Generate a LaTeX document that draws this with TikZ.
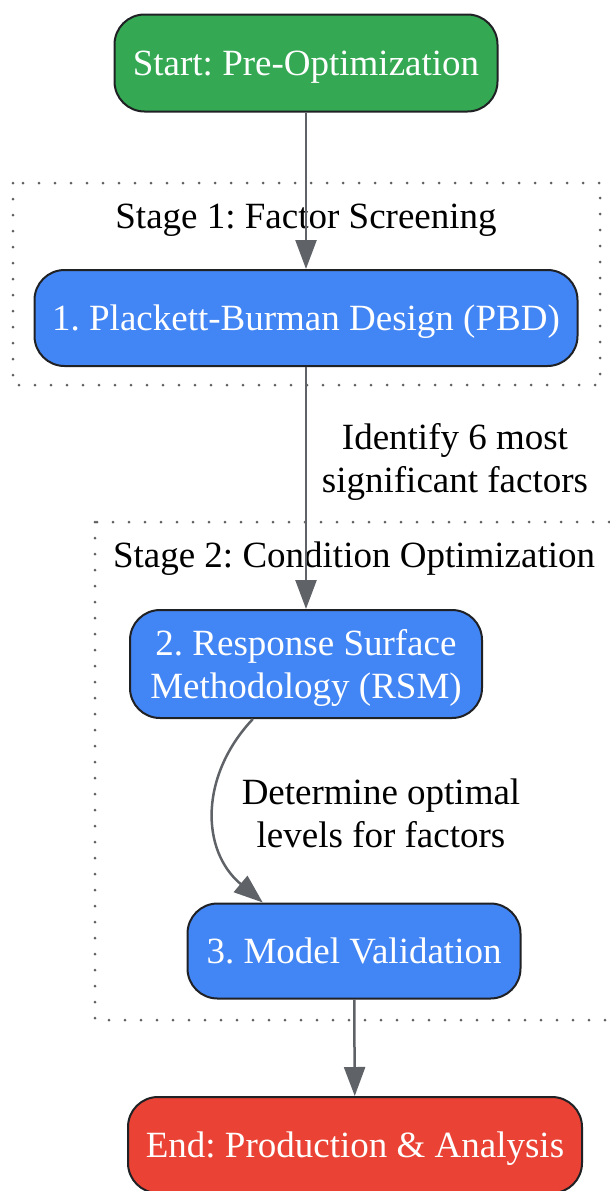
\documentclass[tikz,border=0pt]{standalone}
\usepackage{fontspec}
\setmainfont{Liberation Serif}
\usetikzlibrary{arrows.meta}
\definecolor{gstart}{HTML}{34A853}
\definecolor{gblue}{HTML}{4285F4}
\definecolor{gend}{HTML}{EA4335}
\definecolor{gedge}{HTML}{5F6368}
\definecolor{gline}{HTML}{202124}
\definecolor{gdot}{HTML}{606060}
\frenchspacing
\begin{document}
\begin{tikzpicture}[x=1pt, y=1pt,
                      every node/.style={font=\fontsize{37}{43}\selectfont},
                      box/.style={draw=gline, line width=2pt, rounded corners=30pt, text=white, align=center, text depth=0pt},
                      stage/.style={draw=gdot, line width=3pt, line cap=round, dash pattern=on 0pt off 16pt},
                      flow/.style={draw=gedge, line width=2.5pt, -{Triangle[length=29pt, width=21pt]}}]
                      \useasboundingbox (0,0) rectangle (610,-1191);
                      % stage boxes
                      \draw[stage] (13,-183) rectangle (600,-385);
                      \draw[stage] (95,-522) rectangle (630,-1020);
                      \node (s1) at (306,-220) {Stage 1: Factor Screening};
                      \node (s2) at (354,-559) {Stage 2: Condition Optimization};
                      % steps
                      \node[box, fill=gstart, minimum width=383pt, minimum height=97pt] (start) at (306,-63) {Start: Pre-Optimization};
                      \node[box, fill=gblue, minimum width=543pt, minimum height=96pt] (pbd) at (306,-318) {1. Plackett-Burman Design (PBD)};
                      \node[box, fill=gblue, minimum width=352pt, minimum height=108pt] (rsm) at (306,-664) {2. Response Surface\\Methodology (RSM)};
                      \node[box, fill=gblue, minimum width=333pt, minimum height=95pt] (val) at (354,-951) {3. Model Validation};
                      \node[box, fill=gend, minimum width=454pt, minimum height=96pt] (stop) at (355,-1145) {End: Production \& Analysis};
                      % edges
                      \draw[flow] (start) -- (pbd);
                      \draw[flow] (pbd) -- (rsm);
                      \draw[flow] (rsm.226) .. controls (200,-775) and (200,-850) .. (val.152);
                      \draw[flow] (val) -- (stop);
                      \node[align=center] (l1) at (455,-462) {Identify 6 most\\significant factors};
                      \node[align=center] (l2) at (381,-813) {Determine optimal\\levels for factors};
                  \end{tikzpicture}
\end{document}
